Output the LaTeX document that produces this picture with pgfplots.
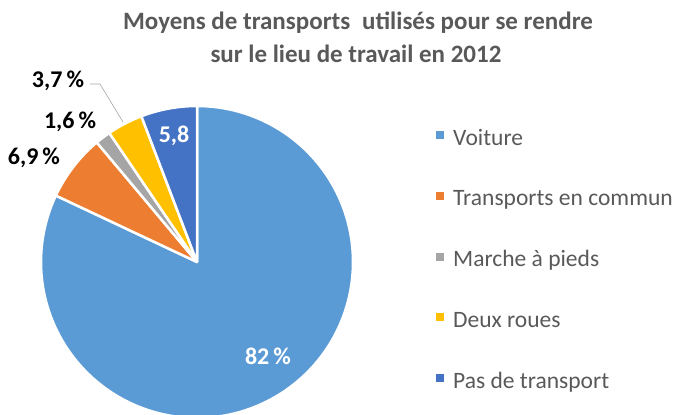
\documentclass[border=0pt]{standalone}
\usepackage{fontspec}
\setmainfont{Carlito}
\usepackage{pgfplots}
\usepackage{pgfplotstable}
\pgfplotsset{compat=1.18}
\definecolor{cVoit}{HTML}{5B9BD5}
\definecolor{cTrans}{HTML}{ED7D31}
\definecolor{cMarche}{HTML}{A5A5A5}
\definecolor{cDeux}{HTML}{FFC000}
\definecolor{cPas}{HTML}{4472C4}
\definecolor{titlegray}{HTML}{595959}
\definecolor{leadgray}{HTML}{A6A6A6}

\pgfplotstableread{
label value
Voiture 82
Transports 6.9
Marche 1.6
Deux 3.7
Pas 5.8
}\piedata

\gdef\startangle{90}
\newcommand\slice[2]{%
  \pgfplotstablegetelem{#1}{value}\of\piedata
  \pgfmathsetmacro\endangle{\startangle-3.6*\pgfplotsretval}%
  \edef\temp{\noexpand\addplot[fill=#2, draw=white, line width=2.5pt, line join=round,
      domain=\endangle:\startangle, samples=150, variable=\noexpand\t]
      ({cos(\noexpand\t)},{sin(\noexpand\t)}) -- (axis cs:0,0) -- cycle;}%
  \temp
  \xdef\startangle{\endangle}%
}

\begin{document}
\begin{tikzpicture}
\begin{axis}[hide axis, x=156pt, y=156pt,
  xmin=-1, xmax=1, ymin=-1, ymax=1,
  anchor=origin, at={(197pt,153pt)}, clip=false,
  legend cell align=left,
  legend image code/.code={\fill[#1, draw=none] (0pt,1pt) rectangle (8pt,9pt);},
  legend style={at={(axis cs:1.532,0.853)}, anchor=north west, draw=none, fill=none,
    font=\fontsize{23.5}{26}\selectfont, text=titlegray, inner sep=0pt,
    row sep=38.75pt, column sep=9pt,
    nodes={inner sep=0pt, text height=16pt, text depth=6pt}},
]
\slice{0}{cVoit}\addlegendentry{Voiture}
\slice{1}{cTrans}\addlegendentry{Transports en commun}
\slice{2}{cMarche}\addlegendentry{Marche à pieds}
\slice{3}{cDeux}\addlegendentry{Deux roues}
\slice{4}{cPas}\addlegendentry{Pas de transport}
\draw[leadgray, line width=0.6pt] (axis cs:-0.686,1.141) -- (axis cs:-0.622,1.141) -- (axis cs:-0.474,0.897);
\node[font=\bfseries\fontsize{24}{28}\selectfont, text=white] at (axis cs:0.455,-0.603) {82\,\%};
\node[font=\bfseries\fontsize{24}{28}\selectfont, text=white] at (axis cs:-0.147,0.808) {5,8};
\node[font=\bfseries\fontsize{24}{28}\selectfont, text=black] at (axis cs:-0.891,1.160) {3,7\,\%};
\node[font=\bfseries\fontsize{24}{28}\selectfont, text=black] at (axis cs:-0.814,0.897) {1,6\,\%};
\node[font=\bfseries\fontsize{24}{28}\selectfont, text=black] at (axis cs:-1.045,0.667) {6,9\,\%};
\end{axis}
\node[font=\bfseries\fontsize{25}{33}\selectfont, text=titlegray, anchor=base, inner sep=0pt] at (358pt,385pt)
  {Moyens de transports\hspace{0.25em} utilisés pour se rendre};
\node[font=\bfseries\fontsize{25}{33}\selectfont, text=titlegray, anchor=base, inner sep=0pt] at (356pt,352pt)
  {sur le lieu de travail en 2012};
\pgfresetboundingbox
\path (0,0) rectangle (681pt,415pt);
\end{tikzpicture}
\end{document}
